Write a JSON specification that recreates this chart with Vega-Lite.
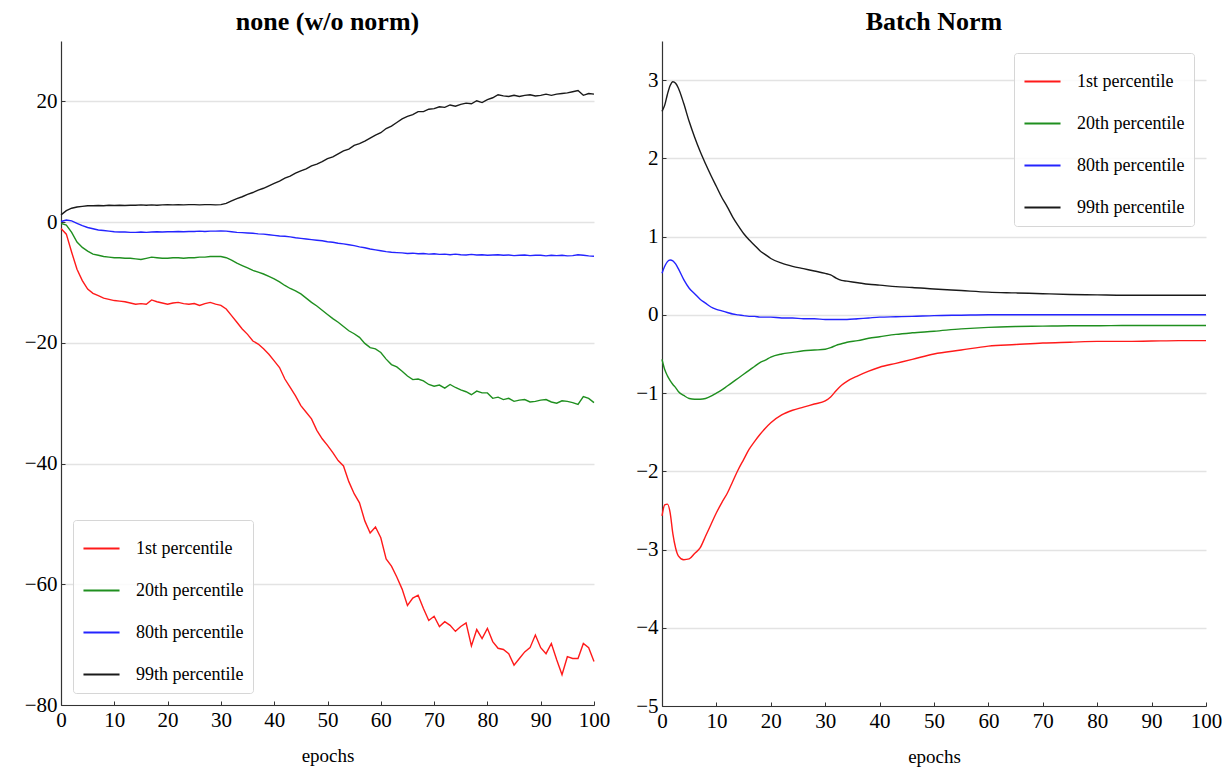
{
  "$schema": "https://vega.github.io/schema/vega-lite/v6.json",
  "background": "white",
  "padding": {"left": 24, "top": 9, "right": 0, "bottom": 2},
  "config": {
    "view": {"stroke": null},
    "font": "Liberation Serif",
    "title": {"font": "Liberation Serif", "fontSize": 26, "fontWeight": "bold", "color": "black", "anchor": "middle", "offset": 6},
    "axis": {
      "labelFont": "Liberation Serif", "labelFontSize": 21, "labelColor": "black",
      "titleFont": "Liberation Serif", "titleFontSize": 19, "titleFontWeight": "normal", "titleColor": "black",
      "domainColor": "#333333", "domainWidth": 1.2, "tickColor": "#333333", "tickSize": -4, "tickWidth": 1,
      "labelPadding": 8, "gridColor": "#e3e3e3", "gridWidth": 1.5, "labelFlush": false, "labelOverlap": false
    },
    "axisX": {"grid": false, "titlePadding": 16},
    "axisY": {"grid": true},
    "legend": {
      "labelFont": "Liberation Serif", "labelFontSize": 18, "labelColor": "black", "labelLimit": 400,
      "symbolType": "stroke", "symbolStrokeWidth": 2, "symbolSize": 1300,
      "rowPadding": 13, "labelOffset": 15, "padding": 9,
      "strokeColor": "#d6d6d6", "fillColor": "rgba(255,255,255,0.85)", "cornerRadius": 3
    },
    "concat": {"spacing": 25}
  },
  "datasets": {
    "none": [
      {"epoch":0,"1st":-1.05,"20th":-0.2,"80th":0.1,"99th":1.2},
      {"epoch":1,"1st":-2.0,"20th":-0.5,"80th":0.35,"99th":1.9},
      {"epoch":2,"1st":-5.0,"20th":-1.7,"80th":0.2,"99th":2.3},
      {"epoch":3,"1st":-7.8,"20th":-3.3,"80th":-0.2,"99th":2.5},
      {"epoch":4,"1st":-9.7,"20th":-4.2,"80th":-0.6,"99th":2.6},
      {"epoch":5,"1st":-11.1,"20th":-4.8,"80th":-0.9,"99th":2.7},
      {"epoch":6,"1st":-11.8,"20th":-5.3,"80th":-1.1,"99th":2.7},
      {"epoch":7,"1st":-12.2,"20th":-5.5,"80th":-1.3,"99th":2.75},
      {"epoch":8,"1st":-12.6,"20th":-5.7,"80th":-1.4,"99th":2.7},
      {"epoch":9,"1st":-12.8,"20th":-5.8,"80th":-1.5,"99th":2.8},
      {"epoch":10,"1st":-13.0,"20th":-5.9,"80th":-1.6,"99th":2.75},
      {"epoch":11,"1st":-13.1,"20th":-5.9,"80th":-1.65,"99th":2.8},
      {"epoch":12,"1st":-13.2,"20th":-6.0,"80th":-1.65,"99th":2.75},
      {"epoch":13,"1st":-13.4,"20th":-6.0,"80th":-1.7,"99th":2.8},
      {"epoch":14,"1st":-13.6,"20th":-6.1,"80th":-1.7,"99th":2.8},
      {"epoch":15,"1st":-13.5,"20th":-6.2,"80th":-1.65,"99th":2.85},
      {"epoch":16,"1st":-13.6,"20th":-6.0,"80th":-1.7,"99th":2.8},
      {"epoch":17,"1st":-12.9,"20th":-5.8,"80th":-1.65,"99th":2.85},
      {"epoch":18,"1st":-13.2,"20th":-5.9,"80th":-1.6,"99th":2.8},
      {"epoch":19,"1st":-13.4,"20th":-6.0,"80th":-1.65,"99th":2.85},
      {"epoch":20,"1st":-13.6,"20th":-6.0,"80th":-1.6,"99th":2.9},
      {"epoch":21,"1st":-13.4,"20th":-5.9,"80th":-1.6,"99th":2.85},
      {"epoch":22,"1st":-13.3,"20th":-5.9,"80th":-1.55,"99th":2.9},
      {"epoch":23,"1st":-13.5,"20th":-6.0,"80th":-1.6,"99th":2.85},
      {"epoch":24,"1st":-13.6,"20th":-5.9,"80th":-1.55,"99th":2.9},
      {"epoch":25,"1st":-13.5,"20th":-5.9,"80th":-1.55,"99th":2.9},
      {"epoch":26,"1st":-13.8,"20th":-5.8,"80th":-1.5,"99th":2.85},
      {"epoch":27,"1st":-13.5,"20th":-5.8,"80th":-1.55,"99th":2.9},
      {"epoch":28,"1st":-13.3,"20th":-5.7,"80th":-1.5,"99th":2.9},
      {"epoch":29,"1st":-13.6,"20th":-5.7,"80th":-1.5,"99th":2.85},
      {"epoch":30,"1st":-13.8,"20th":-5.7,"80th":-1.45,"99th":2.9},
      {"epoch":31,"1st":-14.4,"20th":-5.9,"80th":-1.5,"99th":3.1},
      {"epoch":32,"1st":-15.5,"20th":-6.3,"80th":-1.6,"99th":3.5},
      {"epoch":33,"1st":-16.6,"20th":-6.8,"80th":-1.7,"99th":3.9},
      {"epoch":34,"1st":-17.7,"20th":-7.2,"80th":-1.75,"99th":4.2},
      {"epoch":35,"1st":-18.6,"20th":-7.6,"80th":-1.8,"99th":4.6},
      {"epoch":36,"1st":-19.7,"20th":-8.0,"80th":-1.85,"99th":4.9},
      {"epoch":37,"1st":-20.2,"20th":-8.3,"80th":-1.95,"99th":5.3},
      {"epoch":38,"1st":-21.0,"20th":-8.6,"80th":-2.0,"99th":5.6},
      {"epoch":39,"1st":-21.9,"20th":-9.0,"80th":-2.1,"99th":6.0},
      {"epoch":40,"1st":-23.0,"20th":-9.4,"80th":-2.2,"99th":6.4},
      {"epoch":41,"1st":-24.1,"20th":-9.9,"80th":-2.3,"99th":6.8},
      {"epoch":42,"1st":-26.0,"20th":-10.5,"80th":-2.35,"99th":7.3},
      {"epoch":43,"1st":-27.4,"20th":-11.0,"80th":-2.45,"99th":7.6},
      {"epoch":44,"1st":-28.8,"20th":-11.4,"80th":-2.6,"99th":8.1},
      {"epoch":45,"1st":-30.4,"20th":-11.9,"80th":-2.7,"99th":8.5},
      {"epoch":46,"1st":-31.5,"20th":-12.6,"80th":-2.8,"99th":8.8},
      {"epoch":47,"1st":-32.6,"20th":-13.3,"80th":-2.9,"99th":9.3},
      {"epoch":48,"1st":-34.5,"20th":-13.9,"80th":-3.0,"99th":9.6},
      {"epoch":49,"1st":-35.9,"20th":-14.6,"80th":-3.1,"99th":10.0},
      {"epoch":50,"1st":-37.0,"20th":-15.3,"80th":-3.25,"99th":10.5},
      {"epoch":51,"1st":-38.2,"20th":-16.0,"80th":-3.35,"99th":10.8},
      {"epoch":52,"1st":-39.5,"20th":-16.6,"80th":-3.5,"99th":11.3},
      {"epoch":53,"1st":-40.4,"20th":-17.3,"80th":-3.6,"99th":11.8},
      {"epoch":54,"1st":-43.0,"20th":-18.0,"80th":-3.75,"99th":12.1},
      {"epoch":55,"1st":-45.0,"20th":-18.5,"80th":-3.9,"99th":12.7},
      {"epoch":56,"1st":-46.5,"20th":-19.1,"80th":-4.1,"99th":13.0},
      {"epoch":57,"1st":-49.5,"20th":-20.1,"80th":-4.25,"99th":13.4},
      {"epoch":58,"1st":-51.5,"20th":-20.8,"80th":-4.45,"99th":13.9},
      {"epoch":59,"1st":-50.5,"20th":-21.0,"80th":-4.6,"99th":14.4},
      {"epoch":60,"1st":-52.3,"20th":-21.6,"80th":-4.75,"99th":14.8},
      {"epoch":61,"1st":-55.8,"20th":-22.7,"80th":-4.9,"99th":15.5},
      {"epoch":62,"1st":-57.0,"20th":-23.6,"80th":-5.0,"99th":15.9},
      {"epoch":63,"1st":-58.8,"20th":-24.0,"80th":-5.05,"99th":16.5},
      {"epoch":64,"1st":-60.8,"20th":-24.7,"80th":-5.1,"99th":17.1},
      {"epoch":65,"1st":-63.5,"20th":-25.5,"80th":-5.2,"99th":17.5},
      {"epoch":66,"1st":-62.3,"20th":-26.1,"80th":-5.15,"99th":17.8},
      {"epoch":67,"1st":-61.8,"20th":-26.0,"80th":-5.25,"99th":18.3},
      {"epoch":68,"1st":-64.0,"20th":-26.3,"80th":-5.2,"99th":18.3},
      {"epoch":69,"1st":-66.0,"20th":-26.9,"80th":-5.3,"99th":18.7},
      {"epoch":70,"1st":-65.3,"20th":-27.2,"80th":-5.25,"99th":18.8},
      {"epoch":71,"1st":-67.0,"20th":-27.0,"80th":-5.35,"99th":19.1},
      {"epoch":72,"1st":-66.2,"20th":-27.5,"80th":-5.3,"99th":19.0},
      {"epoch":73,"1st":-66.8,"20th":-26.9,"80th":-5.4,"99th":19.4},
      {"epoch":74,"1st":-67.8,"20th":-27.4,"80th":-5.3,"99th":19.2},
      {"epoch":75,"1st":-67.0,"20th":-27.8,"80th":-5.4,"99th":19.5},
      {"epoch":76,"1st":-66.4,"20th":-28.1,"80th":-5.45,"99th":19.7},
      {"epoch":77,"1st":-70.2,"20th":-28.6,"80th":-5.35,"99th":19.6},
      {"epoch":78,"1st":-67.5,"20th":-28.0,"80th":-5.45,"99th":20.1},
      {"epoch":79,"1st":-69.0,"20th":-28.3,"80th":-5.4,"99th":19.8},
      {"epoch":80,"1st":-67.3,"20th":-28.3,"80th":-5.5,"99th":20.3},
      {"epoch":81,"1st":-69.5,"20th":-29.2,"80th":-5.45,"99th":20.6},
      {"epoch":82,"1st":-70.6,"20th":-29.0,"80th":-5.4,"99th":21.1},
      {"epoch":83,"1st":-70.8,"20th":-29.4,"80th":-5.5,"99th":20.9},
      {"epoch":84,"1st":-71.5,"20th":-29.2,"80th":-5.45,"99th":20.8},
      {"epoch":85,"1st":-73.4,"20th":-29.7,"80th":-5.55,"99th":21.0},
      {"epoch":86,"1st":-72.3,"20th":-29.5,"80th":-5.5,"99th":20.8},
      {"epoch":87,"1st":-71.2,"20th":-29.4,"80th":-5.45,"99th":21.0},
      {"epoch":88,"1st":-70.5,"20th":-29.8,"80th":-5.55,"99th":21.1},
      {"epoch":89,"1st":-68.4,"20th":-29.7,"80th":-5.5,"99th":20.9},
      {"epoch":90,"1st":-70.5,"20th":-29.5,"80th":-5.5,"99th":21.0},
      {"epoch":91,"1st":-71.5,"20th":-29.4,"80th":-5.6,"99th":21.2},
      {"epoch":92,"1st":-69.8,"20th":-29.8,"80th":-5.5,"99th":21.0},
      {"epoch":93,"1st":-72.5,"20th":-30.0,"80th":-5.55,"99th":21.2},
      {"epoch":94,"1st":-75.0,"20th":-29.6,"80th":-5.5,"99th":21.3},
      {"epoch":95,"1st":-72.0,"20th":-29.7,"80th":-5.6,"99th":21.4},
      {"epoch":96,"1st":-72.3,"20th":-29.9,"80th":-5.55,"99th":21.6},
      {"epoch":97,"1st":-72.3,"20th":-30.2,"80th":-5.4,"99th":21.8},
      {"epoch":98,"1st":-69.8,"20th":-28.9,"80th":-5.5,"99th":21.0},
      {"epoch":99,"1st":-70.5,"20th":-29.2,"80th":-5.6,"99th":21.3},
      {"epoch":100,"1st":-72.8,"20th":-29.9,"80th":-5.65,"99th":21.2}
    ],
    "bn": [
      {"epoch":0,"1st":-2.57,"20th":-0.57,"80th":0.53,"99th":2.6},
      {"epoch":0.5,"1st":-2.43,"20th":-0.7,"80th":0.62,"99th":2.68},
      {"epoch":1,"1st":-2.42,"20th":-0.78,"80th":0.68,"99th":2.82},
      {"epoch":1.5,"1st":-2.53,"20th":-0.84,"80th":0.7,"99th":2.93},
      {"epoch":2,"1st":-2.8,"20th":-0.89,"80th":0.69,"99th":2.98},
      {"epoch":2.5,"1st":-2.98,"20th":-0.93,"80th":0.65,"99th":2.96},
      {"epoch":3,"1st":-3.08,"20th":-0.98,"80th":0.59,"99th":2.9},
      {"epoch":4,"1st":-3.13,"20th":-1.03,"80th":0.45,"99th":2.7},
      {"epoch":5,"1st":-3.12,"20th":-1.07,"80th":0.34,"99th":2.47},
      {"epoch":6,"1st":-3.05,"20th":-1.08,"80th":0.27,"99th":2.27},
      {"epoch":7,"1st":-2.98,"20th":-1.08,"80th":0.2,"99th":2.09},
      {"epoch":8,"1st":-2.83,"20th":-1.07,"80th":0.15,"99th":1.93},
      {"epoch":9,"1st":-2.68,"20th":-1.04,"80th":0.1,"99th":1.78},
      {"epoch":10,"1st":-2.53,"20th":-1.0,"80th":0.07,"99th":1.64},
      {"epoch":11,"1st":-2.4,"20th":-0.96,"80th":0.05,"99th":1.5},
      {"epoch":12,"1st":-2.28,"20th":-0.91,"80th":0.03,"99th":1.38},
      {"epoch":13,"1st":-2.13,"20th":-0.86,"80th":0.01,"99th":1.25},
      {"epoch":14,"1st":-1.98,"20th":-0.81,"80th":0.0,"99th":1.14},
      {"epoch":15,"1st":-1.85,"20th":-0.76,"80th":-0.01,"99th":1.04},
      {"epoch":16,"1st":-1.72,"20th":-0.71,"80th":-0.02,"99th":0.96},
      {"epoch":17,"1st":-1.62,"20th":-0.66,"80th":-0.02,"99th":0.89},
      {"epoch":18,"1st":-1.53,"20th":-0.61,"80th":-0.03,"99th":0.82},
      {"epoch":19,"1st":-1.45,"20th":-0.58,"80th":-0.03,"99th":0.77},
      {"epoch":20,"1st":-1.38,"20th":-0.54,"80th":-0.03,"99th":0.72},
      {"epoch":22,"1st":-1.28,"20th":-0.5,"80th":-0.04,"99th":0.66},
      {"epoch":24,"1st":-1.22,"20th":-0.48,"80th":-0.04,"99th":0.62},
      {"epoch":26,"1st":-1.18,"20th":-0.46,"80th":-0.05,"99th":0.59},
      {"epoch":28,"1st":-1.14,"20th":-0.45,"80th":-0.05,"99th":0.56},
      {"epoch":30,"1st":-1.1,"20th":-0.44,"80th":-0.06,"99th":0.53},
      {"epoch":31,"1st":-1.05,"20th":-0.42,"80th":-0.06,"99th":0.51},
      {"epoch":32,"1st":-0.97,"20th":-0.39,"80th":-0.06,"99th":0.47},
      {"epoch":33,"1st":-0.9,"20th":-0.37,"80th":-0.06,"99th":0.44},
      {"epoch":34,"1st":-0.85,"20th":-0.35,"80th":-0.06,"99th":0.43},
      {"epoch":36,"1st":-0.78,"20th":-0.33,"80th":-0.05,"99th":0.41},
      {"epoch":38,"1st":-0.72,"20th":-0.3,"80th":-0.04,"99th":0.39},
      {"epoch":40,"1st":-0.67,"20th":-0.28,"80th":-0.03,"99th":0.38},
      {"epoch":43,"1st":-0.62,"20th":-0.25,"80th":-0.025,"99th":0.36},
      {"epoch":46,"1st":-0.57,"20th":-0.23,"80th":-0.02,"99th":0.35},
      {"epoch":50,"1st":-0.5,"20th":-0.21,"80th":-0.01,"99th":0.33},
      {"epoch":55,"1st":-0.45,"20th":-0.18,"80th":-0.005,"99th":0.31},
      {"epoch":60,"1st":-0.4,"20th":-0.16,"80th":0.0,"99th":0.29},
      {"epoch":65,"1st":-0.38,"20th":-0.15,"80th":0.0,"99th":0.28},
      {"epoch":70,"1st":-0.36,"20th":-0.145,"80th":0.0,"99th":0.27},
      {"epoch":75,"1st":-0.35,"20th":-0.14,"80th":0.0,"99th":0.26},
      {"epoch":80,"1st":-0.34,"20th":-0.14,"80th":0.0,"99th":0.255},
      {"epoch":85,"1st":-0.34,"20th":-0.137,"80th":0.0,"99th":0.25},
      {"epoch":90,"1st":-0.335,"20th":-0.137,"80th":0.0,"99th":0.25},
      {"epoch":95,"1st":-0.33,"20th":-0.136,"80th":0.0,"99th":0.25},
      {"epoch":100,"1st":-0.33,"20th":-0.136,"80th":0.0,"99th":0.25}
    ]
  },
  "hconcat": [
    {
      "title": "none (w/o norm)",
      "width": 533,
      "height": 664,
      "data": {"name": "none"},
      "transform": [{"fold": ["1st", "20th", "80th", "99th"], "as": ["series", "value"]}],
      "mark": {"type": "line", "strokeWidth": 1.4},
      "encoding": {
        "x": {"field": "epoch", "type": "quantitative", "scale": {"domain": [0, 100], "nice": false},
              "axis": {"values": [0, 10, 20, 30, 40, 50, 60, 70, 80, 90, 100], "title": "epochs"}},
        "y": {"field": "value", "type": "quantitative", "scale": {"domain": [-80, 30], "nice": false, "zero": false},
              "axis": {"values": [-80, -60, -40, -20, 0, 20], "title": null}},
        "color": {"field": "series", "type": "nominal",
                  "scale": {"domain": ["1st", "20th", "80th", "99th"], "range": ["#ff1a1a", "#1f8f1f", "#2424ff", "#1a1a1a"]},
                  "legend": {"title": null, "orient": "bottom-left", "offset": 12,
                             "labelExpr": "datum.label + ' percentile'"}}
      }
    },
    {
      "title": "Batch Norm",
      "width": 544,
      "height": 665,
      "data": {"name": "bn"},
      "transform": [{"fold": ["1st", "20th", "80th", "99th"], "as": ["series", "value"]}],
      "mark": {"type": "line", "strokeWidth": 1.4, "interpolate": "monotone"},
      "encoding": {
        "x": {"field": "epoch", "type": "quantitative", "scale": {"domain": [0, 100], "nice": false},
              "axis": {"values": [0, 10, 20, 30, 40, 50, 60, 70, 80, 90, 100], "title": "epochs"}},
        "y": {"field": "value", "type": "quantitative", "scale": {"domain": [-5, 3.5], "nice": false, "zero": false},
              "axis": {"values": [-5, -4, -3, -2, -1, 0, 1, 2, 3], "title": null}},
        "color": {"field": "series", "type": "nominal",
                  "scale": {"domain": ["1st", "20th", "80th", "99th"], "range": ["#ff1a1a", "#1f8f1f", "#2424ff", "#1a1a1a"]},
                  "legend": {"title": null, "orient": "top-right", "offset": 12,
                             "labelExpr": "datum.label + ' percentile'"}}
      }
    }
  ],
  "resolve": {"scale": {"color": "independent", "x": "independent", "y": "independent"}, "legend": {"color": "independent"}}
}
